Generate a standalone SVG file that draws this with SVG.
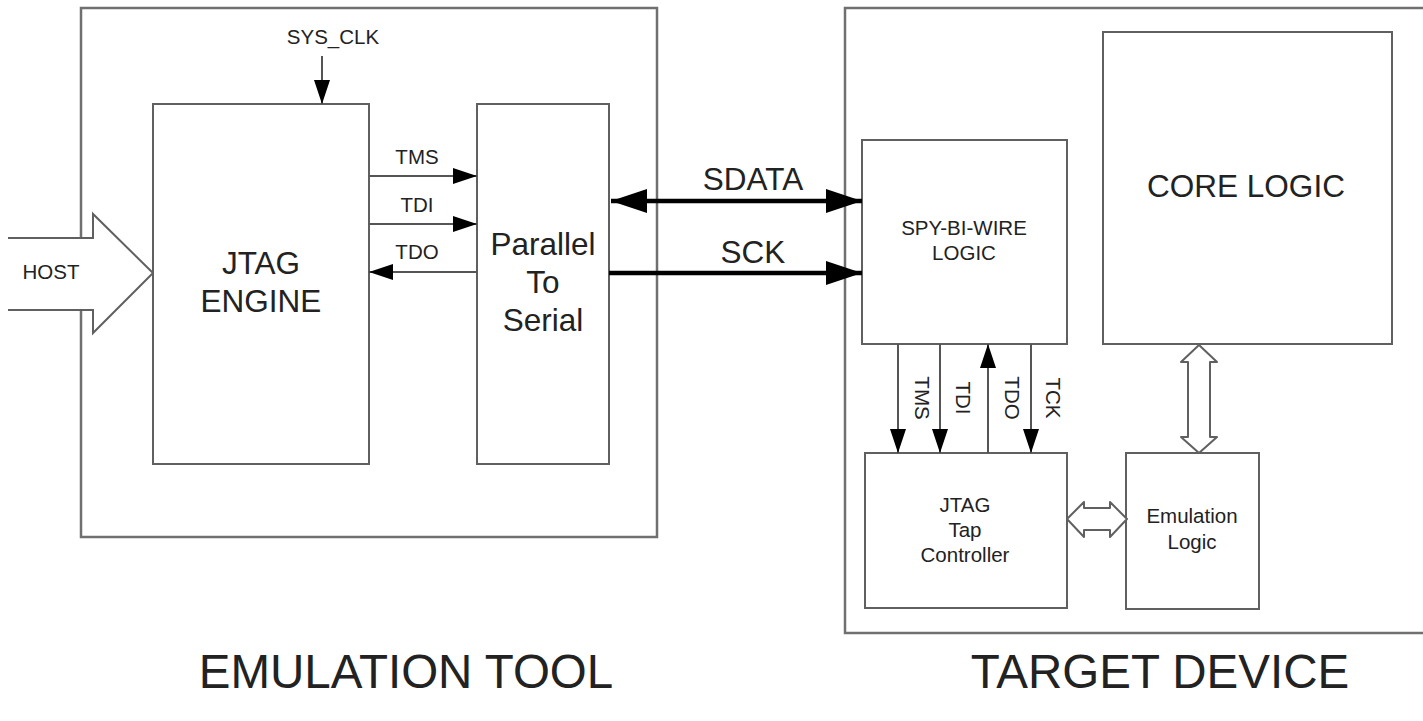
<svg xmlns="http://www.w3.org/2000/svg" width="1423" height="721" viewBox="0 0 1423 721">
<style>
text{font-family:"Liberation Sans",Arial,sans-serif;fill:#222;text-anchor:middle}
.outer{fill:none;stroke:#707070;stroke-width:2.5}
.box{fill:#fff;stroke:#606060;stroke-width:2}
.sig{stroke:#555;stroke-width:2;fill:none;marker-end:url(#ah)}
.bus{stroke:#000;stroke-width:4.5;fill:none;marker-end:url(#bh)}
.hollow{fill:#fff;stroke:#606060;stroke-width:2;stroke-linejoin:round}
.s{font-size:20.5px}
.m{font-size:31.5px}
.l{font-size:47.5px}
</style>
<defs>
<marker id="ah" viewBox="0 0 24 16" refX="24" refY="8" markerWidth="24" markerHeight="16" markerUnits="userSpaceOnUse" orient="auto"><path d="M0,0 L24,8 L0,16 z" fill="#000"/></marker>
<marker id="bh" viewBox="0 0 36 24" refX="36" refY="12" markerWidth="36" markerHeight="24" markerUnits="userSpaceOnUse" orient="auto-start-reverse"><path d="M0,0 L36,12 L0,24 z" fill="#000"/></marker>
</defs>

<g id="emulation-tool">
<rect class="outer" x="81" y="8" width="576" height="529"/>
<text class="l" x="406" y="688">EMULATION TOOL</text>
</g>
<g id="target-device">
<path class="outer" d="M1425,8 H845 V633 H1425"/>
<text class="l" x="1160" y="688">TARGET DEVICE</text>
</g>

<g id="host">
<path d="M8,238 H93 V214 L153,273 L93,333 V310 H8" fill="#fff" stroke="#606060" stroke-width="2"/>
<text class="s" x="51" y="279">HOST</text>
</g>

<g id="jtag-engine">
<rect class="box" x="153" y="104" width="216" height="360"/>
<text class="m" x="261" y="274">JTAG</text>
<text class="m" x="261" y="312">ENGINE</text>
</g>

<g id="parallel-to-serial">
<rect class="box" x="477" y="104" width="132" height="360"/>
<text class="m" x="543" y="255">Parallel</text>
<text class="m" x="543" y="293">To</text>
<text class="m" x="543" y="331">Serial</text>
</g>

<g id="spy-bi-wire">
<rect class="box" x="862" y="140" width="205" height="204"/>
<text class="s" x="964" y="235">SPY-BI-WIRE</text>
<text class="s" x="964" y="260">LOGIC</text>
</g>

<g id="core-logic">
<rect class="box" x="1103" y="32" width="289" height="312"/>
<text class="m" x="1246" y="197">CORE LOGIC</text>
</g>

<g id="jtag-tap">
<rect class="box" x="865" y="453" width="202" height="155"/>
<text class="s" x="965" y="512">JTAG</text>
<text class="s" x="965" y="537">Tap</text>
<text class="s" x="965" y="562">Controller</text>
</g>

<g id="emulation-logic">
<rect class="box" x="1126" y="453" width="133" height="156"/>
<text class="s" x="1192" y="523">Emulation</text>
<text class="s" x="1192" y="549">Logic</text>
</g>

<g id="connectors">
<line class="sig" x1="322" y1="56" x2="322" y2="104"/>
<text class="s" x="333" y="44">SYS_CLK</text>

<line class="sig" x1="369" y1="176" x2="477" y2="176"/>
<line class="sig" x1="369" y1="224" x2="477" y2="224"/>
<line class="sig" x1="477" y1="272" x2="369" y2="272"/>
<text class="s" x="417" y="164">TMS</text>
<text class="s" x="417" y="212">TDI</text>
<text class="s" x="417" y="259">TDO</text>

<line class="bus" x1="611" y1="201" x2="862" y2="201" style="marker-start:url(#bh)"/>
<line class="bus" x1="609" y1="273" x2="862" y2="273"/>
<text class="m" x="753" y="190">SDATA</text>
<text class="m" x="753" y="263">SCK</text>

<line class="sig" x1="898" y1="344" x2="898" y2="453"/>
<line class="sig" x1="940" y1="344" x2="940" y2="453"/>
<line class="sig" x1="988" y1="453" x2="988" y2="344"/>
<line class="sig" x1="1031" y1="344" x2="1031" y2="453"/>
<text class="s" transform="translate(915,398) rotate(90)">TMS</text>
<text class="s" transform="translate(956,398) rotate(90)">TDI</text>
<text class="s" transform="translate(1005,398) rotate(90)">TDO</text>
<text class="s" transform="translate(1046,398) rotate(90)">TCK</text>

<path class="hollow" d="M1199,345 L1217,362 H1210 V437 H1217 L1199,453 L1181,437 H1188 V362 H1181 Z"/>
<path class="hollow" d="M1067,519 L1084,502 V508 H1110 V502 L1127,519 L1110,537 V530 H1084 V537 Z"/>
</g>
</svg>
